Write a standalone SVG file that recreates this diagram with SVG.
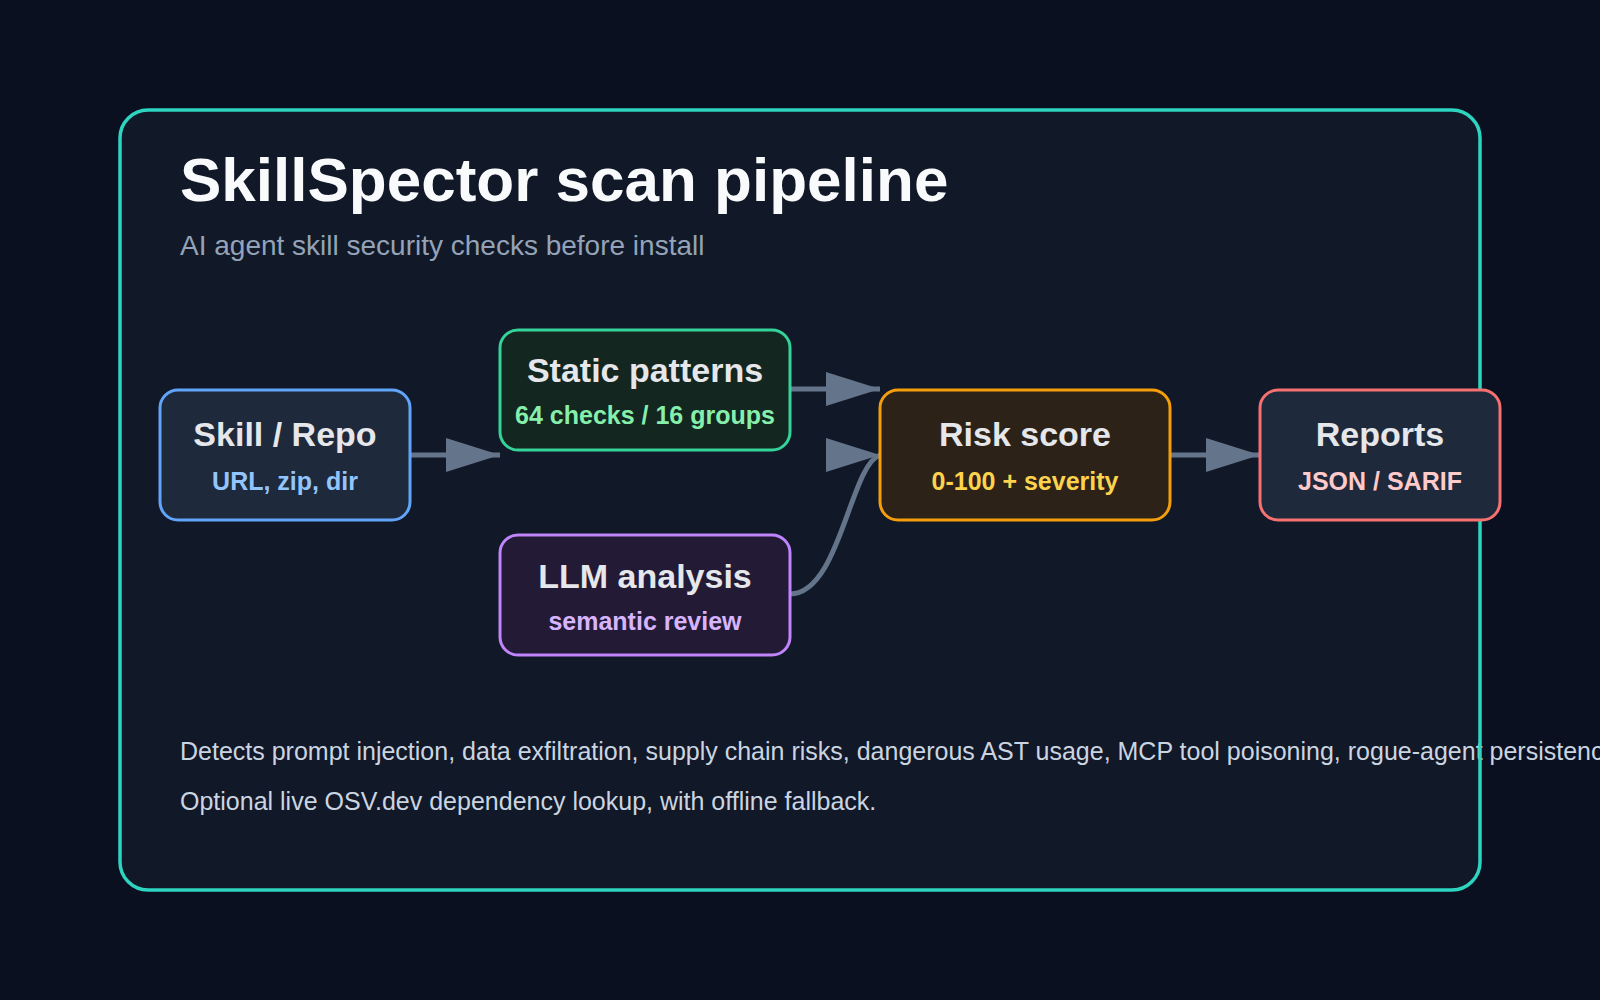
<svg xmlns="http://www.w3.org/2000/svg" width="1600" height="1000" viewBox="0 0 1600 1000">
  <defs>
    <style>
      .t { font-family: "Liberation Sans", Arial, sans-serif; }
      .h { font-weight: 700; font-size: 34px; fill: #e5e7eb; text-anchor: middle; }
      .s { font-weight: 700; font-size: 25px; text-anchor: middle; }
      .foot { font-size: 25px; fill: #cbd5e1; }
      .node rect { stroke-width: 3; }
      .edge { fill: none; stroke: #64748b; stroke-width: 5; marker-end: url(#arrow); }
    </style>
    <marker id="arrow" markerUnits="userSpaceOnUse" markerWidth="54" markerHeight="34" refX="54" refY="17" orient="0">
      <path d="M0,0 L54,17 L0,34 Z" fill="#64748b"/>
    </marker>
  </defs>

  <rect x="0" y="0" width="1600" height="1000" fill="#0a1020"/>
  <rect x="120" y="110" width="1360" height="780" rx="28" fill="#111827"/>

  <g id="title">
    <text class="t" x="180" y="201" font-size="62" font-weight="700" fill="#f8fafc">SkillSpector scan pipeline</text>
    <text class="t" x="180" y="255" font-size="28" fill="#94a3b8">AI agent skill security checks before install</text>
  </g>

  <g id="footer">
    <text class="t foot" x="180" y="760">Detects prompt injection, data exfiltration, supply chain risks, dangerous AST usage, MCP tool poisoning, rogue-agent persistence.</text>
    <text class="t foot" x="180" y="810">Optional live OSV.dev dependency lookup, with offline fallback.</text>
  </g>

  <rect id="frame" x="120" y="110" width="1360" height="780" rx="28" fill="none" stroke="#2dd4bf" stroke-width="3.5"/>

  <g id="connectors">
    <path class="edge" d="M410,455 L500,455"/>
    <path class="edge" d="M790,389 L880,389"/>
    <path class="edge" d="M790,594 C840,594 850,465 880,455"/>
    <path class="edge" d="M1170,455 L1260,455"/>
  </g>

  <g id="node-skill" class="node">
    <rect x="160" y="390" width="250" height="130" rx="18" fill="#1e293b" stroke="#60a5fa"/>
    <text class="t h" x="285" y="446">Skill / Repo</text>
    <text class="t s" x="285" y="490" fill="#93c5fd">URL, zip, dir</text>
  </g>

  <g id="node-static" class="node">
    <rect x="500" y="330" width="290" height="120" rx="18" fill="#132620" stroke="#34d399"/>
    <text class="t h" x="645" y="382">Static patterns</text>
    <text class="t s" x="645" y="424" fill="#86efac">64 checks / 16 groups</text>
  </g>

  <g id="node-llm" class="node">
    <rect x="500" y="535" width="290" height="120" rx="18" fill="#231b36" stroke="#c084fc"/>
    <text class="t h" x="645" y="588">LLM analysis</text>
    <text class="t s" x="645" y="630" fill="#d8b4fe">semantic review</text>
  </g>

  <g id="node-risk" class="node">
    <rect x="880" y="390" width="290" height="130" rx="18" fill="#2c2217" stroke="#f59e0b"/>
    <text class="t h" x="1025" y="446">Risk score</text>
    <text class="t s" x="1025" y="490" fill="#fcd34d">0-100 + severity</text>
  </g>

  <g id="node-reports" class="node">
    <rect x="1260" y="390" width="240" height="130" rx="18" fill="#1e293b" stroke="#f87171"/>
    <text class="t h" x="1380" y="446">Reports</text>
    <text class="t s" x="1380" y="490" fill="#fecaca">JSON / SARIF</text>
  </g>
</svg>
